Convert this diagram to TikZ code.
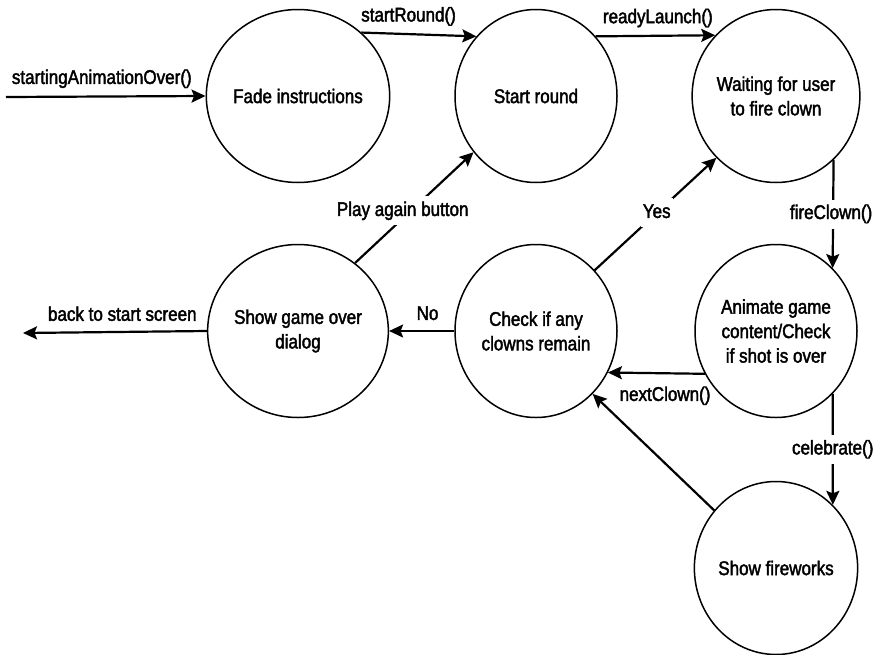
\documentclass[tikz,border=0pt]{standalone}
\usepackage{fontspec}
\setmainfont{Liberation Sans}[FakeStretch=0.86,FakeBold=2]
\usetikzlibrary{shapes.geometric,arrows.meta}
\begin{document}
\begin{tikzpicture}[x=1pt,y=-1pt,
  font=\fontsize{19.8}{24.5}\selectfont,
  state/.style={ellipse, draw, line width=1.5pt, minimum width=162pt, minimum height=173pt, inner sep=0pt, align=center},
  conn/.style={line width=2.2pt, -{Stealth[length=14pt,width=13pt,inset=2.5pt]}},
  lab/.style={inner sep=0pt, text height=14.5pt, text depth=4.5pt},
  onlab/.style={fill=white, inner xsep=2pt, inner ysep=5pt, text height=14.5pt, text depth=4.5pt}]
\useasboundingbox (0,0) rectangle (873,654);
\node[state] (Fade) at (298,96) {Fade instructions};
\node[state] (Start) at (536,96) {Start round};
\node[state] (Wait) at (776,96) {Waiting for user\\to fire clown};
\node[state] (Over) at (298,331) {Show game over\\dialog};
\node[state] (Check) at (536,331) {Check if any\\clowns remain};
\node[state] (Anim) at (776,331) {Animate game\\content/Check\\if shot is over};
\node[state] (Fire) at (776,568) {Show fireworks};
\coordinate (inL) at (6,97);
\coordinate (outL) at (23,333);
\draw[conn] (inL) -- node[lab, above=7pt, pos=0.48]{startingAnimationOver()} (Fade.west);
\draw[conn] (Fade.45) -- node[lab, above=7pt, pos=0.41]{startRound()} (Start.135);
\draw[conn] (Start.45) -- node[lab, above=7pt, pos=0.52]{readyLaunch()} (Wait.135);
\draw[conn] (Wait.-48.1) -- node[onlab, xshift=-2pt]{fireClown()} (Anim.48.1);
\draw[conn] (Anim.-48.1) -- node[onlab]{celebrate()} (Fire.48.1);
\draw[conn] (Anim.-149.3) -- node[lab, below=12pt, pos=0.41]{nextClown()} (Check.-30.7);
\draw[conn] (Check.180) -- node[lab, above=5.5pt, pos=0.41]{No} (Over.0);
\draw[conn] (Over.180) -- node[lab, above=5.5pt, pos=0.46]{back to start screen} (outL);
\draw[conn] (Check.46) -- node[onlab, pos=0.51]{Yes} (Wait.226.4);
\draw[conn] (Over.50.2) -- node[onlab, pos=0.47, xshift=-8pt]{Play again button} (Start.222.7);
\draw[conn] (Fire.137.4) -- (Check.-48.2);
\end{tikzpicture}
\end{document}
